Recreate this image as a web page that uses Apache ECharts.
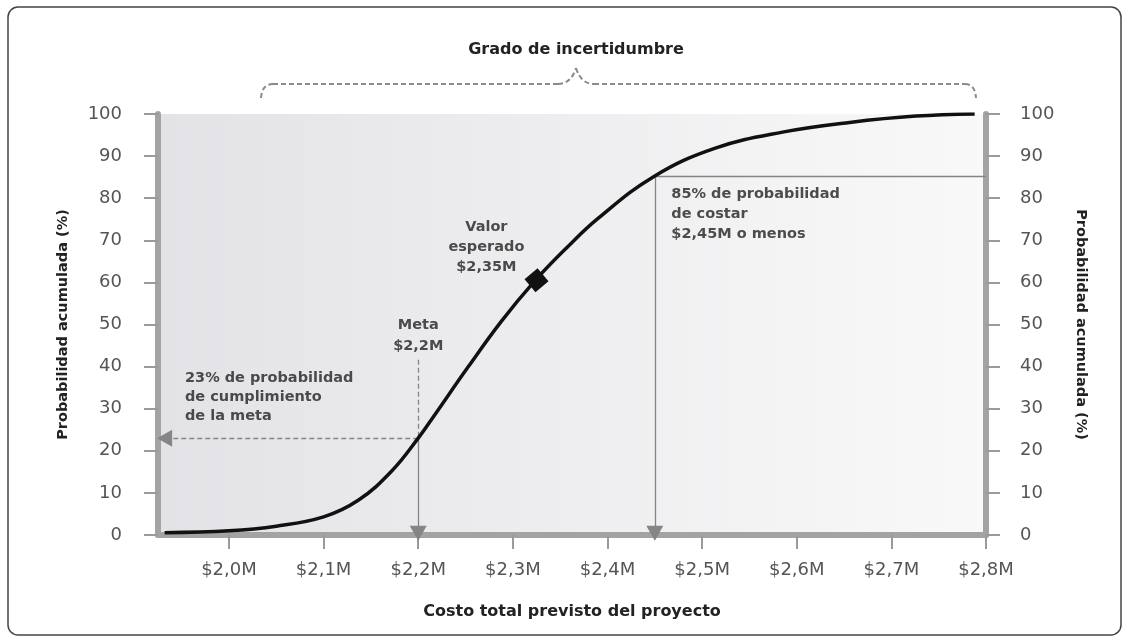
<!DOCTYPE html>
<html>
<head>
<meta charset="utf-8">
<title>Probabilidad acumulada</title>
<script src="https://cdn.jsdelivr.net/npm/echarts@6/dist/echarts.min.js"></script>
<style>
  html, body { margin: 0; padding: 0; background: #fff; }
  #chart { width: 1129px; height: 641px; }
</style>
</head>
<body>
<div id="chart"></div>
<script>
// cumulative probability curve: [cost in $M, %]
const curveCost = [1.932, 2.0, 2.05, 2.1, 2.137, 2.172, 2.2, 2.217, 2.253, 2.288, 2.323, 2.355, 2.39, 2.45, 2.514, 2.585, 2.656, 2.726, 2.788];
const curveProb = [0.55, 1.0, 2.1, 4.3, 8.3, 15.2, 23, 28.4, 40, 50.8, 60.3, 67.8, 75.2, 85.3, 91.9, 95.7, 98, 99.5, 100];

const xTickValues = [2.0, 2.1, 2.2, 2.3, 2.4, 2.5, 2.6, 2.7, 2.8];
const xTickLabels = ['$2,0M', '$2,1M', '$2,2M', '$2,3M', '$2,4M', '$2,5M', '$2,6M', '$2,7M', '$2,8M'];

const goalCost = 2.2;       // Meta
const goalProb = 23;
const expectedCost = 2.325; // Valor esperado (marker)
const expectedProb = 60.5;
const p85Cost = 2.45;
const p85Prob = 85.3;

const xMin = 1.925, xMax = 2.8;

const curveData = curveCost.map((c, i) => [c, curveProb[i]]);

const chart = echarts.init(document.getElementById('chart'));

const axisGray = '#a3a3a3';
const labelFont = 'DejaVu Sans';
const boldFont = 'DejaVu Sans';

const yAxisBase = {
  type: 'value', min: 0, max: 100, interval: 10,
  axisLine: { show: true, lineStyle: { color: axisGray, width: 6 } },
  axisTick: { show: true, length: 14, lineStyle: { color: '#9a9a9a', width: 2 } },
  axisLabel: { color: '#555', fontFamily: labelFont, fontSize: 18, margin: 36 },
  splitLine: { show: false },
  name: 'Probabilidad acumulada (%)',
  nameLocation: 'middle',
  nameGap: 87,
  nameTextStyle: { color: '#222', fontFamily: boldFont, fontWeight: 'bold', fontSize: 14.5 }
};

const annText = { color: '#222', fontFamily: boldFont, fontWeight: 'bold', fontSize: 14.5, lineHeight: 20 };

// dashed curly brace over the chart
const braceStyle = { fill: 'none', stroke: '#8a8a8a', lineWidth: 2, lineDash: [5, 3] };
const brace = [
  { type: 'bezierCurve', shape: { x1: 261, y1: 98, cpx1: 262, cpy1: 84, x2: 273, y2: 84 } },
  { type: 'line', shape: { x1: 273, y1: 84, x2: 558, y2: 84 } },
  { type: 'bezierCurve', shape: { x1: 558, y1: 84, cpx1: 571, cpy1: 84, x2: 576, y2: 68 } },
  { type: 'bezierCurve', shape: { x1: 576, y1: 68, cpx1: 581, cpy1: 84, x2: 594, y2: 84 } },
  { type: 'line', shape: { x1: 594, y1: 84, x2: 965, y2: 84 } },
  { type: 'bezierCurve', shape: { x1: 965, y1: 84, cpx1: 975, cpy1: 84, x2: 976, y2: 98 } }
].map(el => Object.assign(el, { style: braceStyle, silent: true }));

const option = {
  backgroundColor: '#fff',
  animation: false,
  title: {
    text: 'Grado de incertidumbre',
    left: 571, top: 37, textAlign: 'center',
    textStyle: { color: '#222', fontFamily: boldFont, fontWeight: 'bold', fontSize: 16 }
  },
  graphic: [
    {
      type: 'rect', z: -1, silent: true,
      shape: { x: 8, y: 7, width: 1113, height: 628, r: 10 },
      style: { fill: 'none', stroke: '#444', lineWidth: 1.5 }
    }
  ].concat(brace),
  grid: {
    left: 158, right: 143, top: 114, bottom: 106,
    show: true, borderWidth: 0,
    backgroundColor: new echarts.graphic.LinearGradient(0, 0, 1, 0, [
      { offset: 0, color: '#e3e3e7' },
      { offset: 1, color: '#f9f9f9' }
    ])
  },
  xAxis: {
    type: 'value', min: xMin, max: xMax,
    axisLine: { show: true, onZero: false, lineStyle: { color: axisGray, width: 6 } },
    axisTick: { show: true, length: 14, customValues: xTickValues, lineStyle: { color: '#9a9a9a', width: 2 } },
    axisLabel: {
      customValues: xTickValues,
      formatter: v => xTickLabels[xTickValues.findIndex(t => Math.abs(t - v) < 1e-6)] || '',
      color: '#555', fontFamily: labelFont, fontSize: 18, margin: 26
    },
    splitLine: { show: false },
    name: 'Costo total previsto del proyecto',
    nameLocation: 'middle',
    nameGap: 69,
    nameTextStyle: { color: '#222', fontFamily: boldFont, fontWeight: 'bold', fontSize: 16 }
  },
  yAxis: [
    Object.assign({}, yAxisBase, { position: 'left' }),
    Object.assign({}, yAxisBase, { position: 'right', nameRotate: -90, axisLabel: Object.assign({}, yAxisBase.axisLabel, { margin: 34 }) })
  ],
  series: [
    {
      name: 'Probabilidad acumulada',
      type: 'line',
      data: curveData,
      smooth: 0.4,
      showSymbol: false,
      lineStyle: { color: '#111', width: 3.5 },
      z: 5,
      markLine: {
        silent: true,
        symbol: ['none', 'triangle'],
        symbolSize: [17, 15],
        label: { show: false },
        lineStyle: { color: '#858585', width: 1.3, type: 'solid' },
        itemStyle: { color: '#7f7f7f' },
        data: [
          [{ coord: [goalCost, goalProb], lineStyle: { type: [5, 3] } }, { coord: [1.932, goalProb] }],
          [{ coord: [goalCost, 41.6], lineStyle: { type: [5, 3] }, symbol: 'none' }, { coord: [goalCost, goalProb], symbol: 'none' }],
          [{ coord: [goalCost, goalProb] }, { coord: [goalCost, 0.4] }],
          [{ coord: [p85Cost, p85Prob], symbol: 'none' }, { coord: [xMax, p85Prob], symbol: 'none' }],
          [{ coord: [p85Cost, p85Prob] }, { coord: [p85Cost, 0.4] }]
        ]
      }
    },
    {
      name: 'Valor esperado',
      type: 'scatter',
      data: [[expectedCost, expectedProb]],
      symbol: 'rect',
      symbolSize: 17,
      symbolRotate: 40,
      itemStyle: { color: '#111', opacity: 1 },
      z: 6
    },
    {
      name: 'Anotaciones',
      type: 'scatter',
      symbolSize: 0,
      silent: true,
      z: 7,
      data: [
        { value: [1.9535, 32.8], label: Object.assign({ show: true, position: 'right', distance: 0, align: 'left', formatter: '23% de probabilidad\nde cumplimiento\nde la meta' }, annText, { lineHeight: 19 }) },
        { value: [2.4675, 76.2], label: Object.assign({ show: true, position: 'right', distance: 0, align: 'left', formatter: '85% de probabilidad\nde costar\n$2,45M o menos' }, annText) },
        { value: [goalCost, 47.3], label: Object.assign({ show: true, position: 'inside', align: 'center', formatter: 'Meta\n$2,2M' }, annText, { lineHeight: 21 }) },
        { value: [2.272, 68.3], label: Object.assign({ show: true, position: 'inside', align: 'center', formatter: 'Valor\nesperado\n$2,35M' }, annText) }
      ]
    }
  ]
};

chart.setOption(option);
window.addEventListener('resize', () => chart.resize());
</script>
</body>
</html>
